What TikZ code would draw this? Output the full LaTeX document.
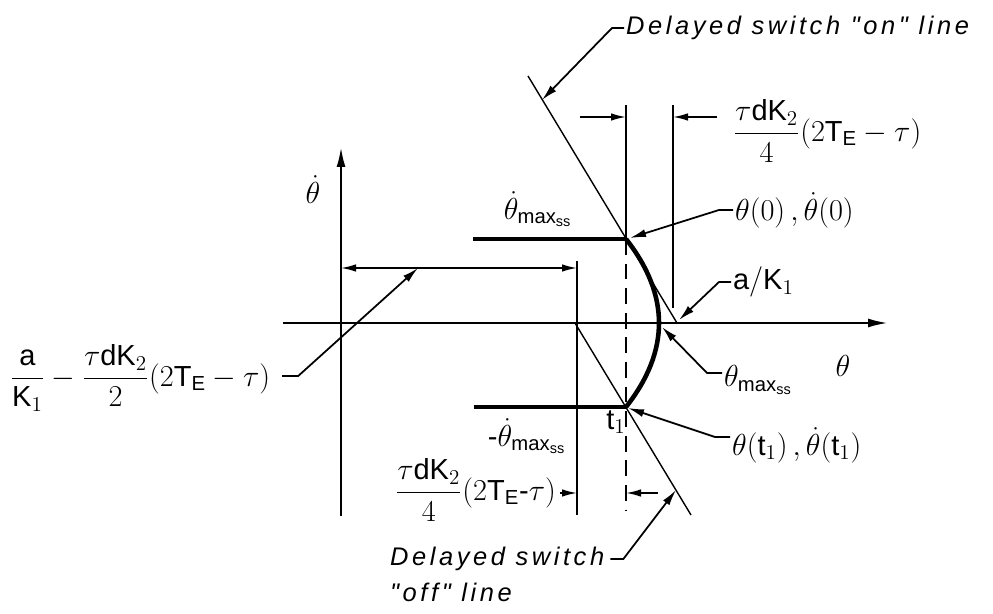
\documentclass[tikz,border=0pt]{standalone}
\usepackage{amsmath}
\usepackage{fontspec}
\setmainfont{Liberation Sans}
\newfontfamily\notefont{Liberation Sans}[LetterSpace=14]
\usetikzlibrary{
  arrows.meta,
  positioning,
  calc
}
\tikzset{
  axisline/.style={line width=1.3pt, -{Latex[length=4mm, width=1.8mm]}},
  switchline/.style={line width=0.8pt},
  extline/.style={line width=0.8pt},
  bound/.style={line width=2.6pt},
  dimarrow/.style={line width=0.9pt, -{Latex[length=3mm, width=1.5mm]}},
  dimboth/.style={line width=0.9pt, {Latex[length=3mm, width=1.5mm]}-{Latex[length=3mm, width=1.5mm]}},
  leader/.style={line width=1pt, -{Latex[length=3.2mm, width=1.6mm]}},
  mlabel/.style={font=\fontsize{16.5}{19}\selectfont, inner sep=1pt},
  note/.style={font=\notefont\itshape\fontsize{14.5}{17}\selectfont, inner sep=1pt}
}

\begin{document}
\begin{tikzpicture}[x=0.02cm, y=-0.02cm]
  \useasboundingbox (0,0) rectangle (993,614);
  % points of the trajectory
  \coordinate (start) at (626,239);
  \coordinate (bend) at (659,323);
  \coordinate (tone) at (626,407);
  \coordinate (aK) at (677,323);
  \coordinate (offzero) at (575,323);
  % axes
  \draw[axisline] (283,323) -- (888,323);
  \draw[axisline] (341,516) -- (341,147);
  % switch lines
  \draw[switchline] (528,76) -- (aK);
  \draw[switchline] (offzero) -- (691,515);
  % extension lines
  \draw[extline] (626,105) -- (start);
  \draw[extline, dashed, dash pattern=on 9pt off 5pt] (start) -- (626,510);
  \draw[extline] (673,105) -- (673,308);
  \draw[extline] (577,261) -- (577,515);
  % steady state limits and trajectory
  \draw[bound] (473,239) -- (start);
  \draw[bound] (474,407) -- (tone);
  \draw[bound] (start) .. controls (648,267) and (659,295) .. (bend)
                       .. controls (659,351) and (648,379) .. (tone);
  % dimensions
  \draw[dimarrow] (580,117) -- (626,117);
  \draw[dimarrow] (717,117) -- (673,117);
  \draw[dimboth] (341,268) -- (577,268);
  \coordinate (gaphit) at (418,268);
  \draw[dimarrow] (560,493) -- (577,493);
  \draw[dimarrow] (658,493) -- (626,493);

  % labels
  \node[mlabel] (thdot) at (313,190) {$\dot{\theta}$};
  \node[mlabel] (th) at (843,366) {$\theta$};
  \node[mlabel] (thmaxss) at (538,209) {$\dot{\theta}_{\mathrm{max}_{\mathrm{ss}}}$};
  \node[mlabel] (mthmaxss) at (527,436) {-$\dot{\theta}_{\mathrm{max}_{\mathrm{ss}}}$};
  \node[mlabel] (tonelbl) at (616,422) {$\mathrm{t}_1$};
  \node[mlabel, anchor=west] (topdim) at (731,131)
    {$\dfrac{\tau\mathrm{dK}_2}{4}(2\mathrm{T}_{\mathrm{E}}-\tau)$};
  \node[mlabel, anchor=east] (botdim) at (558,490)
    {$\dfrac{\tau\mathrm{dK}_2}{4}(2\mathrm{T}_{\mathrm{E}}\text{-}\tau)$};
  \node[mlabel, anchor=west] (gap) at (8,378)
    {$\dfrac{\mathrm{a}}{\mathrm{K}_1}-\dfrac{\tau\mathrm{dK}_2}{2}(2\mathrm{T}_{\mathrm{E}}-\tau)$};
  \node[mlabel, anchor=west] (thzero) at (733,210) {$\theta(0)\,,\dot{\theta}(0)$};
  \node[mlabel, anchor=west] (aKlbl) at (731,282) {$\mathrm{a}/\mathrm{K}_1$};
  \node[mlabel, anchor=west] (thmax) at (722,380) {$\theta_{\mathrm{max}_{\mathrm{ss}}}$};
  \node[mlabel, anchor=west] (thtone) at (730,445) {$\theta(\mathrm{t}_1)\,,\dot{\theta}(\mathrm{t}_1)$};
  \node[note, anchor=west] (onnote) at (624,28) {Delayed switch "on" line};
  \node[note, anchor=west] (offnote) at (388,559) {Delayed switch};
  \node[note, below=1.5mm of offnote.south west, anchor=north west] (offnote2) {"off" line};

  % leaders
  \draw[leader] (onnote.west) -- ++(-12,0) -- (542,100);
  \draw[leader] (thzero.west) -- ++(-14,0) -- (630,238);
  \draw[leader] (aKlbl.west) -- ++(-12,0) -- (679,320);
  \draw[leader] (thmax.west |- 0,373) -- ++(-15,0) -- (662,327);
  \draw[leader] (thtone.west |- 0,437) -- ++(-15,0) -- (628,408);
  \draw[leader] (gap.east |- 0,376) ++(10,0) -- ++(16,0) -- (gaphit);
  \draw[leader] (offnote.east) ++(4,0) -- ++(13,0) -- (676,490);
\end{tikzpicture}
\end{document}
